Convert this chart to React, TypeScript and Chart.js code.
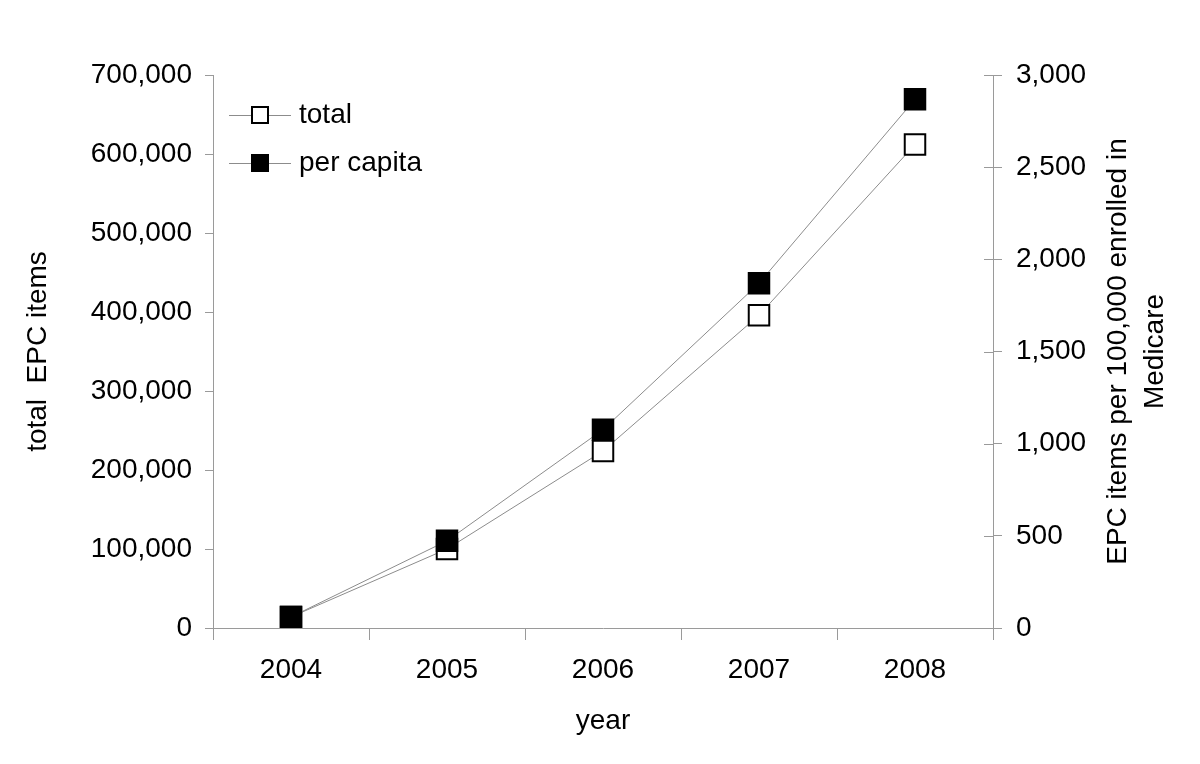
import React, { useEffect, useRef } from 'react';
import { Chart, registerables } from 'chart.js';

Chart.register(...registerables);

const years = ['2004', '2005', '2006', '2007', '2008'];
const totalItems = [14000, 100000, 224000, 396000, 612000];
const perCapita = [60, 473, 1076, 1870, 2868];
const legendLabels = ['total', 'per capita'];
const leftTitle = 'total  EPC items';
const rightTitleLines = ['EPC items per 100,000 enrolled in', 'Medicare'];
const xTitle = 'year';

const FONT = '"Liberation Sans", Arial, sans-serif';
const FS = 28;
const GRAY = '#9a9a9a';
const LINE = '#8c8c8c';

const fmt = (v: number) => Number(v).toLocaleString('en-US');

const decorPlugin = {
  id: 'decor',
  afterDraw(chart: any) {
    const ctx = chart.ctx as CanvasRenderingContext2D;
    const area = chart.chartArea;
    const y1 = chart.scales.y1;
    ctx.save();
    // inward ticks on the right axis
    ctx.strokeStyle = GRAY;
    ctx.lineWidth = 1;
    y1.ticks.forEach((_t: any, i: number) => {
      const py = Math.round(y1.getPixelForTick(i)) + 0.5;
      ctx.beginPath();
      ctx.moveTo(area.right - 9, py);
      ctx.lineTo(area.right, py);
      ctx.stroke();
    });
    // titles
    ctx.fillStyle = '#000';
    ctx.font = `${FS}px ${FONT}`;
    ctx.textAlign = 'center';
    ctx.textBaseline = 'middle';
    const cy = (area.top + area.bottom) / 2;
    ctx.save();
    ctx.translate(38, cy);
    ctx.rotate(-Math.PI / 2);
    ctx.fillText(leftTitle, 0, 0);
    ctx.restore();
    ctx.save();
    ctx.translate(1118, cy);
    ctx.rotate(-Math.PI / 2);
    ctx.fillText(rightTitleLines[0], 0, 0);
    ctx.fillText(rightTitleLines[1], 0, 37);
    ctx.restore();
    ctx.fillText(xTitle, (area.left + area.right) / 2, 721);
    // legend
    const rows = [
      { label: legendLabels[0], fill: '#ffffff', y: 115 },
      { label: legendLabels[1], fill: '#000000', y: 163 },
    ];
    rows.forEach((r) => {
      ctx.strokeStyle = LINE;
      ctx.lineWidth = 1;
      ctx.beginPath();
      ctx.moveTo(229, r.y + 0.5);
      ctx.lineTo(291, r.y + 0.5);
      ctx.stroke();
      ctx.fillStyle = r.fill;
      ctx.fillRect(252, r.y - 8, 16, 16);
      ctx.strokeStyle = '#000';
      ctx.lineWidth = 2;
      ctx.strokeRect(252, r.y - 8, 16, 16);
      ctx.fillStyle = '#000';
      ctx.textAlign = 'left';
      ctx.textBaseline = 'middle';
      ctx.fillText(r.label, 299, r.y);
    });
    ctx.restore();
  },
};

export default function App() {
  const ref = useRef<HTMLCanvasElement>(null);
  useEffect(() => {
    document.body.style.margin = '0';
    const chart = new Chart(ref.current!, {
      type: 'line',
      data: {
        labels: years,
        datasets: [
          {
            label: legendLabels[1],
            data: perCapita,
            yAxisID: 'y1',
            order: 0,
            borderColor: LINE,
            borderWidth: 1,
            pointStyle: 'rect',
            pointRadius: 14.5,
            pointBackgroundColor: '#000',
            pointBorderColor: '#000',
            pointBorderWidth: 2,
            tension: 0,
          },
          {
            label: legendLabels[0],
            data: totalItems,
            yAxisID: 'y',
            order: 1,
            borderColor: LINE,
            borderWidth: 1,
            pointStyle: 'rect',
            pointRadius: 14.5,
            pointBackgroundColor: '#fff',
            pointBorderColor: '#000',
            pointBorderWidth: 2,
            tension: 0,
          },
        ],
      },
      options: {
        animation: false,
        responsive: false,
        maintainAspectRatio: false,
        layout: { padding: { top: 75, left: 0, right: 0, bottom: 0 } },
        plugins: { legend: { display: false }, tooltip: { enabled: false } },
        scales: {
          x: {
            type: 'category',
            offset: true,
            grid: { offset: true, drawOnChartArea: false, tickLength: 12, color: GRAY },
            border: { color: GRAY, width: 1 },
            ticks: { color: '#000', font: { family: FONT, size: FS }, padding: 13, maxRotation: 0 },
            afterFit: (s: any) => { s.height = 136; },
          },
          y: {
            position: 'left',
            min: 0,
            max: 700000,
            grid: { drawOnChartArea: false, tickLength: 8, color: GRAY },
            border: { color: GRAY, width: 1 },
            ticks: { stepSize: 100000, color: '#000', font: { family: FONT, size: FS }, padding: 13, callback: (v: any) => fmt(v) },
            afterFit: (s: any) => { s.width = 213; },
          },
          y1: {
            position: 'right',
            min: 0,
            max: 3000,
            grid: { drawOnChartArea: false, tickLength: 9, color: GRAY },
            border: { color: GRAY, width: 1 },
            ticks: { stepSize: 500, color: '#000', font: { family: FONT, size: FS }, padding: 14, callback: (v: any) => fmt(v) },
            afterFit: (s: any) => { s.width = 207; },
          },
        },
      },
      plugins: [decorPlugin],
    });
    return () => chart.destroy();
  }, []);
  return (
    <div style={{ width: 1200, height: 764, background: '#fff' }}>
      <canvas ref={ref} width={1200} height={764} />
    </div>
  );
}
